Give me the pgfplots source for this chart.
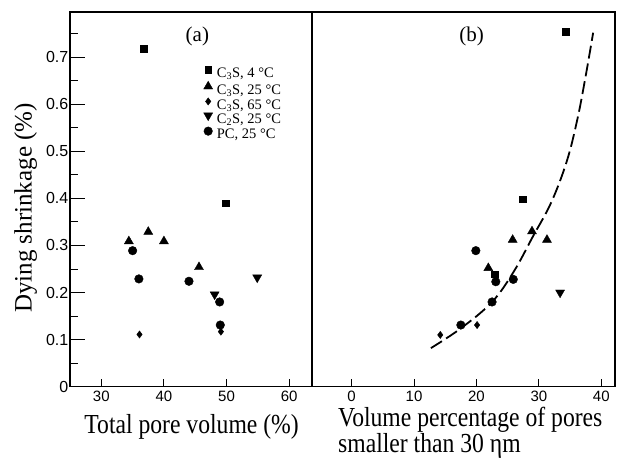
\documentclass[border=0pt]{standalone}
\usepackage{fontspec}
\setmainfont{Liberation Serif}
\newfontfamily\sansf{Liberation Sans}
\newfontfamily\labfont[FakeStretch=0.86]{Liberation Serif}
\usepackage{pgfplots}
\pgfplotsset{compat=1.18}
\begin{document}
\begin{tikzpicture}
\useasboundingbox (-70pt,-71.3pt) rectangle (547pt,386.7pt);
\pgfplotsset{
  common/.style={
    scale only axis, height=374.7pt, ymin=0, ymax=0.796,
    axis line style={line width=1.3pt},
    tick pos=left, xtick align=inside, ytick align=inside,
    major tick length=15pt, minor tick length=8pt,
    every tick/.append style={black, line width=1pt},
    every major x tick/.append style={draw opacity=0},
    /pgf/number format/assume math mode=true,
    yticklabel style={inner sep=1.5pt, font=\sansf\fontsize{16}{16}\selectfont},
    xticklabel style={inner sep=4.5pt, font=\sansf\fontsize{15}{15}\selectfont},
  },
  sq/.style={only marks, mark=square*, mark size=3.3pt, black},
  tri/.style={only marks, mark=triangle*, mark size=5.2pt, black},
  dia/.style={only marks, mark=diamond*, mark size=3.6pt, black},
  dtri/.style={only marks, mark=triangle*, mark size=5.2pt, black, mark options={rotate=180}},
  circ/.style={only marks, mark=*, mark size=4.3pt, black},
}
\begin{axis}[common, width=241.7pt,
  xmin=25, xmax=63.6,
  xtick={30,40,50,60}, minor xtick={30,40,50,60},
  ytick={0,0.1,0.2,0.3,0.4,0.5,0.6,0.7},
  minor ytick={0.05,0.15,0.25,0.35,0.45,0.55,0.65,0.75},
  ylabel={Dying shrinkage (\%)},
  ylabel style={at={(axis description cs:-0.1585,0.477)}, anchor=base, font=\fontsize{25}{25}\selectfont},
  xlabel={Total pore volume (\%)},
  xlabel style={at={(axis description cs:0.503,-0.126)}, anchor=base, font=\labfont\fontsize{27.5}{27.5}\selectfont},
  legend style={at={(rel axis cs:0.5523,0.855)}, anchor=north west, draw=none, fill=none, inner sep=0pt,
    font=\fontsize{14.5}{15}\selectfont, row sep=0pt,
    nodes={inner xsep=4.2pt, inner ysep=0pt, text height=10pt, text depth=3.6pt}},
  legend cell align=left,
  legend image code/.code={\draw[#1] plot coordinates {(4.6pt,4.6pt)};},
  tick align=inside,
]
\addplot[sq] coordinates {(36.8,0.718) (49.9,0.390)};
\addplot[tri] coordinates {(34.4,0.309) (37.5,0.329) (40.0,0.309) (45.6,0.254)};
\addplot[dia] coordinates {(36.1,0.111) (49.1,0.117)};
\addplot[dtri] coordinates {(48.1,0.196) (54.9,0.232)};
\addplot[circ] coordinates {(35.0,0.289) (36.0,0.229) (44.0,0.224) (48.9,0.180) (49.0,0.131)};
\legend{{C\textsubscript{3}S, 4 °C}, {C\textsubscript{3}S, 25 °C}, {C\textsubscript{3}S, 65 °C}, {C\textsubscript{2}S, 25 °C}, {PC, 25 °C}}
\node[anchor=base, font=\fontsize{21}{21}\selectfont] at (rel axis cs:0.527,0.921) {(a)};
\end{axis}
\begin{axis}[common, name=R, at={(241.7pt,0pt)}, anchor=south west, width=303.3pt,
  xmin=-6.4, xmax=42.2,
  xtick={0,10,20,30,40}, minor xtick={0,10,20,30,40},
  ytick=\empty, tick align=inside,
]
\addplot[sq] coordinates {(34.3,0.754) (27.4,0.398) (22.9,0.239)};
\addplot[tri] coordinates {(25.8,0.312) (28.9,0.330) (31.3,0.312) (21.9,0.252)};
\addplot[dia] coordinates {(14.2,0.110) (20.1,0.131)};
\addplot[dtri] coordinates {(33.4,0.200)};
\addplot[circ] coordinates {(19.9,0.289) (25.9,0.228) (23.1,0.223) (22.5,0.180) (17.5,0.131)};
\addplot[black, line width=1.8pt, dash pattern=on 13pt off 5pt, smooth, tension=0.6] coordinates {
 (12.7,0.082) (17.5,0.124) (22.5,0.180) (26.0,0.245) (29.0,0.318) (32.0,0.392) (34.5,0.480) (36.2,0.570) (37.5,0.660) (38.7,0.752)};
\node[anchor=base, font=\fontsize{21}{21}\selectfont] at (rel axis cs:0.527,0.921) {(b)};
\end{axis}
\draw[line width=2.2pt] (R.south west) -- (R.north west);
\node[anchor=base west, inner sep=0pt, font=\labfont\fontsize{27.5}{27.5}\selectfont] at ([shift={(26.3pt,-39.7pt)}]R.south west) {Volume percentage of pores};
\node[anchor=base west, inner sep=0pt, font=\labfont\fontsize{27.5}{27.5}\selectfont] at ([shift={(26.3pt,-65.6pt)}]R.south west) {smaller than 30 ηm};
\end{tikzpicture}
\end{document}
